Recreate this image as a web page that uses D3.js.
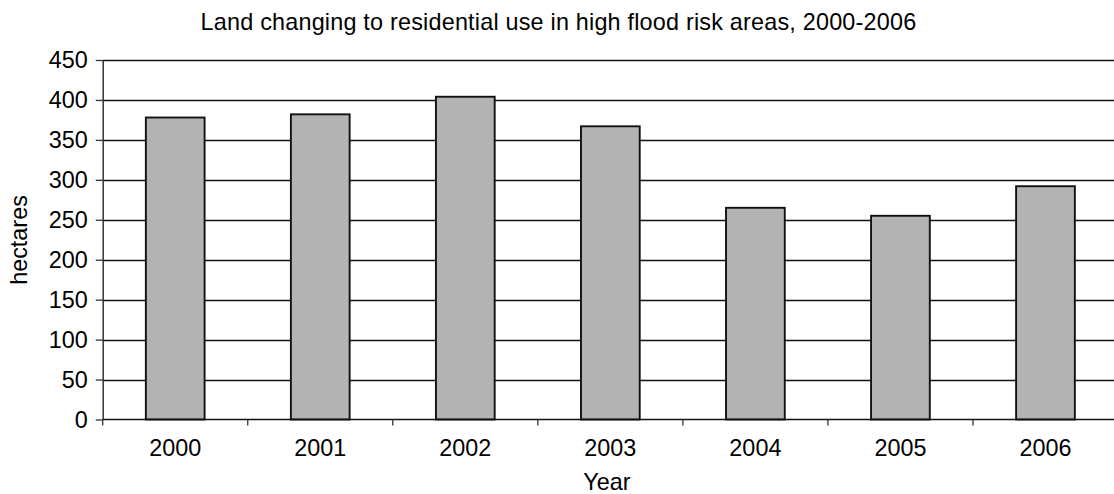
<!DOCTYPE html>
<html>
<head>
<meta charset="utf-8">
<script src="https://cdn.jsdelivr.net/npm/d3@7"></script>
<style>
  html, body { margin: 0; padding: 0; background: #fff; }
  svg { display: block; font-family: "Liberation Sans", Arial, sans-serif; }
</style>
</head>
<body>
<svg id="chart" width="1114" height="494"></svg>
<script>
// Land changing to residential use in high flood risk areas (hectares)
const years = ["2000", "2001", "2002", "2003", "2004", "2005", "2006"];
const hectares = [378, 382, 404, 367, 265, 255, 292];
const yTicks = [0, 50, 100, 150, 200, 250, 300, 350, 400, 450];

const svg = d3.select("#chart");
const plotLeft = 102.7, plotRight = 1118, plotTop = 60, plotBottom = 419.5;
const fontSize = 23.4;

const x = d3.scaleBand().domain(years).range([plotLeft, plotRight]).paddingInner(0.595).paddingOuter(0.2975);
const xEdges = d3.scaleLinear().domain([0, years.length]).range([plotLeft, plotRight]);
const y = d3.scaleLinear().domain([0, 450]).range([plotBottom, plotTop]);

// horizontal gridlines
svg.append("g")
  .selectAll("line")
  .data(yTicks.filter(d => d > 0))
  .join("line")
  .attr("x1", plotLeft).attr("x2", plotRight)
  .attr("y1", d => Math.round(y(d)) + 0.5).attr("y2", d => Math.round(y(d)) + 0.5)
  .attr("stroke", "#111").attr("stroke-width", 1.4);

// bars
svg.append("g")
  .selectAll("rect")
  .data(years.map((yr, i) => ({ yr, v: hectares[i] })))
  .join("rect")
  .attr("x", d => x(d.yr))
  .attr("width", x.bandwidth())
  .attr("y", d => y(d.v))
  .attr("height", d => y(0) - y(d.v))
  .attr("fill", "#b3b3b3")
  .attr("stroke", "#111")
  .attr("stroke-width", 1.9);

// y axis
const yAxis = svg.append("g")
  .attr("transform", `translate(${plotLeft},0)`)
  .call(d3.axisLeft(y).tickValues(yTicks).tickSize(7).tickPadding(8).tickSizeOuter(0));
yAxis.select(".domain").attr("stroke", "#333").attr("stroke-width", 1.5);
yAxis.selectAll(".tick line").attr("stroke", "#333").attr("stroke-width", 1.3);
yAxis.selectAll("text").attr("font-size", fontSize).attr("fill", "#000")
  .attr("font-family", "Liberation Sans, Arial, sans-serif");

// x axis: ticks at category boundaries, labels centred in each band
const xAxis = svg.append("g").attr("transform", `translate(0,${plotBottom})`);
xAxis.append("line")
  .attr("x1", plotLeft).attr("x2", plotRight).attr("y1", 0).attr("y2", 0)
  .attr("stroke", "#111").attr("stroke-width", 1.6);
xAxis.selectAll("line.tick")
  .data(d3.range(years.length + 1))
  .join("line")
  .attr("class", "tick")
  .attr("x1", d => xEdges(d)).attr("x2", d => xEdges(d))
  .attr("y1", 0).attr("y2", 6)
  .attr("stroke", "#333").attr("stroke-width", 1.3);
xAxis.selectAll("text")
  .data(years)
  .join("text")
  .attr("x", d => x(d) + x.bandwidth() / 2)
  .attr("y", 36.5)
  .attr("text-anchor", "middle")
  .attr("font-size", fontSize)
  .text(d => d);

// title and axis labels
svg.append("text")
  .attr("x", 558.5).attr("y", 30)
  .attr("text-anchor", "middle")
  .attr("font-size", fontSize)
  .attr("letter-spacing", 0.2)
  .text("Land changing to residential use in high flood risk areas, 2000-2006");

svg.append("text")
  .attr("x", 607).attr("y", 489.5)
  .attr("text-anchor", "middle")
  .attr("font-size", fontSize)
  .text("Year");

svg.append("text")
  .attr("transform", "translate(27,240) rotate(-90)")
  .attr("text-anchor", "middle")
  .attr("font-size", fontSize)
  .text("hectares");
</script>
</body>
</html>
